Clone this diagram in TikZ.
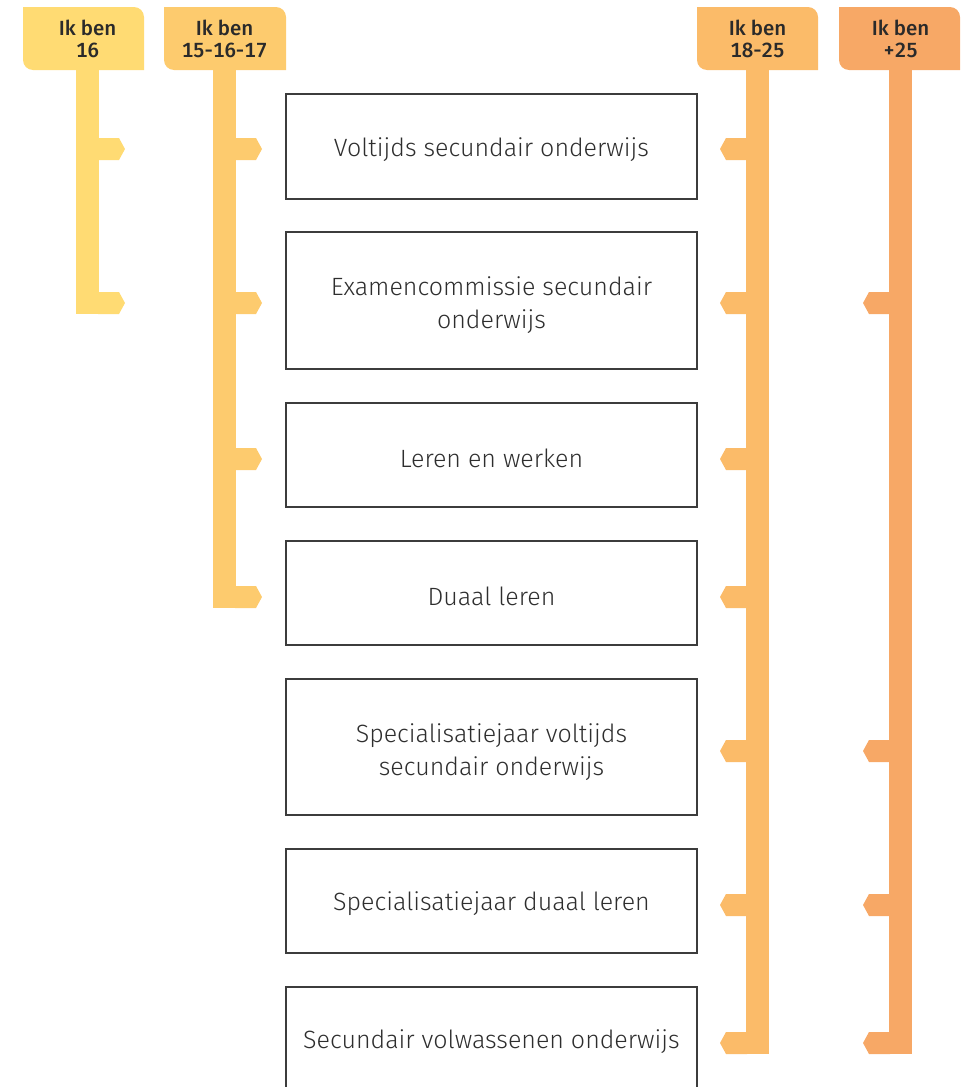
\documentclass[tikz,border=0pt]{standalone}
\usepackage{fontspec}
\setmainfont{Fira Sans}
\IfFontExistsTF{Fira Sans Light}{\newfontfamily\boxfont{Fira Sans Light}}{\newfontfamily\boxfont{Fira Sans}}
\IfFontExistsTF{Fira Sans Medium}{\newfontfamily\hdrfont[Numbers=Monospaced]{Fira Sans Medium}}{\newfontfamily\hdrfont[Numbers=Monospaced]{Fira Sans}}
\definecolor{cA}{HTML}{FFDB73}
\definecolor{cB}{HTML}{FDCB6E}
\definecolor{cC}{HTML}{FBBB69}
\definecolor{cD}{HTML}{F7A866}
\definecolor{txt}{HTML}{2E2E2E}
\definecolor{htxt}{HTML}{2A2A2A}
\definecolor{boxline}{HTML}{3C3C3C}
\tikzset{
  box/.style={draw=boxline, line width=1.2pt, minimum width=411pt, inner sep=0pt},
  boxtext/.style={align=center, font=\boxfont\fontsize{25}{33}\selectfont, text=txt, inner sep=0pt},
  headtext/.style={align=center, font=\hdrfont\fontsize{20.5}{21.5}\selectfont, text=htxt, inner sep=0pt},
}
\newcommand{\hdr}[3]{\fill[#1] (#2,-7) -- ({#3-10},-7) arc[start angle=90,end angle=0,radius=10]
  -- (#3,-70) -- ({#2+10},-70) arc[start angle=270,end angle=180,radius=10] -- cycle;}
\newcommand{\tabR}[3]{\fill[#1] ({#2-1},{-(#3-11)}) -- ({#2+20},{-(#3-11)}) -- ({#2+26},{-#3})
  -- ({#2+20},{-(#3+11)}) -- ({#2-1},{-(#3+11)}) -- cycle;}
\newcommand{\tabL}[3]{\fill[#1] ({#2+1},{-(#3-11)}) -- ({#2-20},{-(#3-11)}) -- ({#2-26},{-#3})
  -- ({#2-20},{-(#3+11)}) -- ({#2+1},{-(#3+11)}) -- cycle;}
\begin{document}
\begin{tikzpicture}[x=1pt,y=1pt]
\useasboundingbox (0,0) rectangle (962,-1087);
% headers
\hdr{cA}{23}{144}
\hdr{cB}{164}{286}
\hdr{cC}{697}{818}
\hdr{cD}{839}{960}
% stems
\fill[cA] (76,-69) rectangle (99,-314);
\fill[cB] (213,-69) rectangle (236,-608);
\fill[cC] (746,-69) rectangle (769,-1054);
\fill[cD] (889,-69) rectangle (912,-1054);
% tabs
\foreach \c in {149,303} {\tabR{cA}{99}{\c}}
\foreach \c in {149,303,459,597} {\tabR{cB}{236}{\c}}
\foreach \c in {149,303,459,597,751,905,1043} {\tabL{cC}{746}{\c}}
\foreach \c in {303,751,905,1043} {\tabL{cD}{889}{\c}}
% header texts
\node[headtext] (h1) at (87.5,-39) {Ik ben\\16};
\node[headtext] (h2) at (224.5,-39) {Ik ben\\15-16-17};
\node[headtext] (h3) at (757.5,-39) {Ik ben\\18-25};
\node[headtext] (h4) at (900.5,-39) {Ik ben\\+25};
% boxes
\node[box, minimum height=105pt] (b1) at (491.5,-146.5) {};
\node[box, minimum height=137pt] (b2) at (491.5,-300.5) {};
\node[box, minimum height=104pt] (b3) at (491.5,-455) {};
\node[box, minimum height=104pt] (b4) at (491.5,-593) {};
\node[box, minimum height=136pt] (b5) at (491.5,-747) {};
\node[box, minimum height=104pt] (b6) at (491.5,-901) {};
\node[box, minimum height=104pt] (b7) at (491.5,-1039) {};
% box texts
\node[boxtext] (t1) at ([yshift=-3pt]b1.center) {Voltijds secundair onderwijs};
\node[boxtext] (t2) at ([yshift=-5pt]b2.center) {Examencommissie secundair\\onderwijs};
\node[boxtext] (t3) at ([yshift=-3pt]b3.center) {Leren en werken};
\node[boxtext] (t4) at ([yshift=-3pt]b4.center) {Duaal leren};
\node[boxtext] (t5) at ([yshift=-5pt]b5.center) {Specialisatiejaar voltijds\\secundair onderwijs};
\node[boxtext] (t6) at ([yshift=-3pt]b6.center) {Specialisatiejaar duaal leren};
\node[boxtext] (t7) at ([yshift=-3pt]b7.center) {Secundair volwassenen onderwijs};
\end{tikzpicture}
\end{document}
